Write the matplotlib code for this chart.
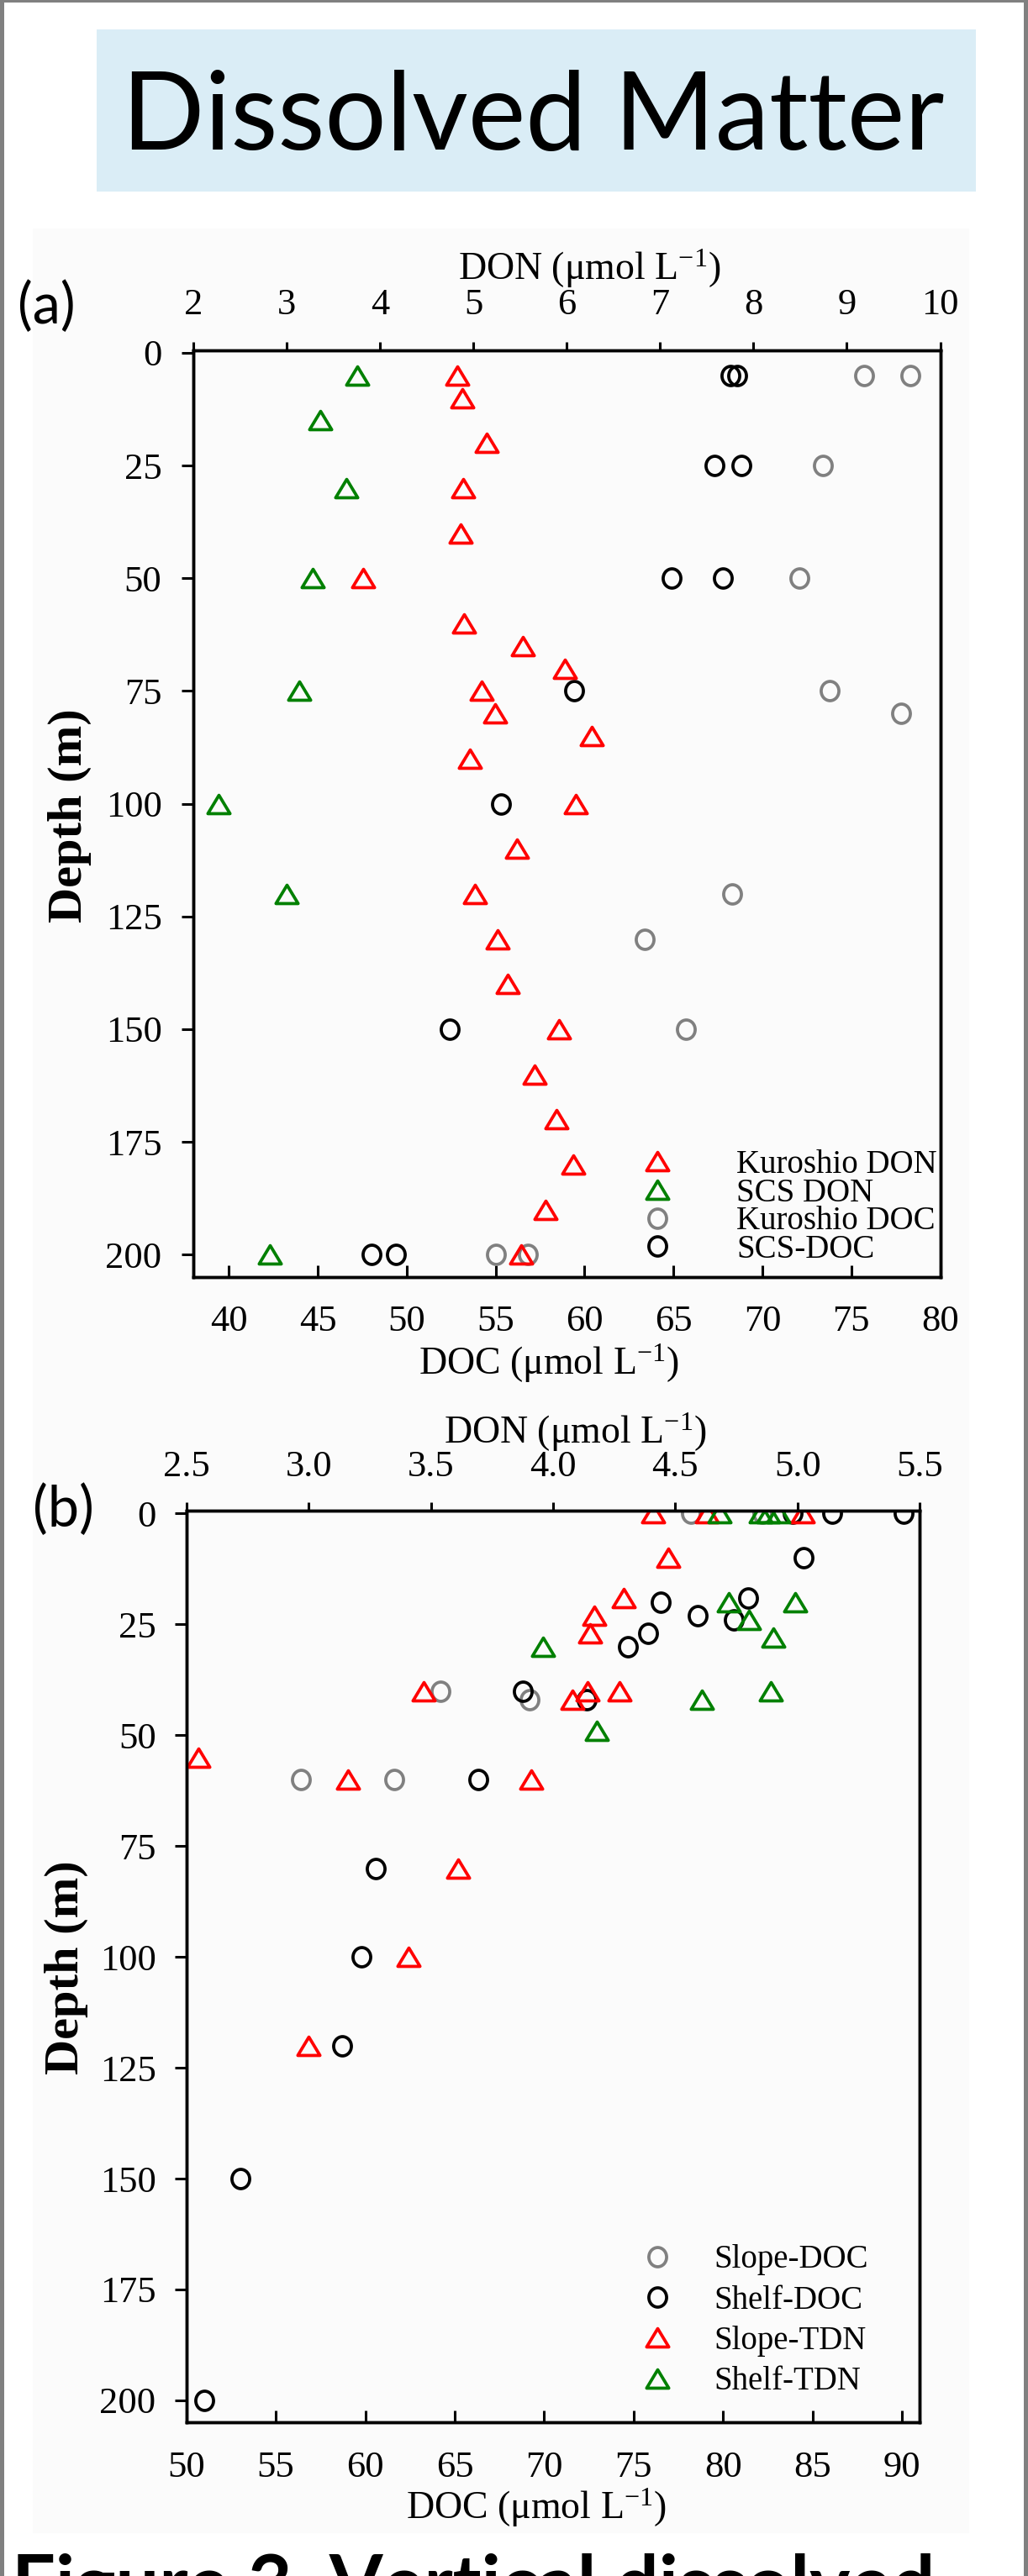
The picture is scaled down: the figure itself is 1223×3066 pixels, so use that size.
import matplotlib
matplotlib.use('Agg')
import matplotlib.pyplot as plt
from matplotlib.patches import Rectangle
from matplotlib.path import Path
import numpy as np

plt.rcParams['font.family'] = ['Liberation Serif', 'DejaVu Serif']
plt.rcParams['mathtext.fontset'] = 'custom'
plt.rcParams['mathtext.rm'] = 'Liberation Serif'
plt.rcParams['mathtext.default'] = 'regular'

# ---------- panel (a): Kuroshio vs SCS ----------
kuro_don_depth = [5, 10, 20, 30, 40, 50, 60, 65, 70, 75, 80, 85, 90, 100, 110,
                  120, 130, 140, 150, 160, 170, 180, 190, 200]
kuro_don = [4.83, 4.88, 5.14, 4.89, 4.86, 3.82, 4.90, 5.53, 5.98, 5.09, 5.23, 6.27,
            4.96, 6.10, 5.47, 5.02, 5.26, 5.37, 5.92, 5.66, 5.89, 6.07, 5.77, 5.51]
scs_don_depth = [5, 15, 30, 50, 75, 100, 120, 200]
scs_don = [3.76, 3.36, 3.64, 3.28, 3.13, 2.27, 3.00, 2.82]
kuro_doc_depth = [5, 5, 25, 50, 75, 80, 120, 130, 150, 200, 200]
kuro_doc = [75.7, 78.3, 73.4, 72.1, 73.8, 77.8, 68.3, 63.4, 65.7, 55.0, 56.8]
scs_doc_depth = [5, 5, 25, 25, 50, 50, 75, 100, 150, 200, 200]
scs_doc = [68.2, 68.6, 67.3, 68.8, 64.9, 67.8, 59.4, 55.3, 52.4, 48.0, 49.4]
labels_a = ['Kuroshio DON', 'SCS DON', 'Kuroshio DOC', 'SCS-DOC']

# ---------- panel (b): slope vs shelf ----------
slope_doc_depth = [0, 0, 40, 42, 60, 60]
slope_doc = [78.2, 82.2, 64.2, 69.2, 56.4, 61.6]
shelf_doc_depth = [0, 0, 0, 10, 20, 19, 23, 24, 27, 30, 40, 42, 60, 80, 100, 120, 150, 200]
shelf_doc = [83.9, 86.1, 90.1, 84.5, 76.5, 81.4, 78.6, 80.6, 75.8, 74.7, 68.8, 72.4,
             66.3, 60.6, 59.8, 58.7, 53.0, 51.0]
slope_tdn_depth = [0, 0, 0, 10, 19, 23, 27, 40, 42, 40, 40, 55, 60, 60, 80, 100, 120]
slope_tdn = [4.41, 4.63, 5.02, 4.47, 4.29, 4.17, 4.15, 3.47, 4.08, 4.14, 4.27, 2.55,
             3.16, 3.91, 3.61, 3.41, 3.00]
shelf_tdn_depth = [0, 0, 0, 0, 20, 20, 24, 28, 30, 42, 40, 49]
shelf_tdn = [4.68, 4.85, 4.88, 4.92, 4.72, 4.99, 4.80, 4.90, 3.96, 4.61, 4.89, 4.18]
labels_b = ['Slope-DOC', 'Shelf-DOC', 'Slope-TDN', 'Shelf-TDN']

depth_ticks = list(range(0, 201, 25))

RED, GREEN, GRAY, BLACK = '#ff0000', '#008000', '#808080', '#000000'

# marker shapes: a slightly flat triangle and a slightly tall ring
tri = Path([(0, 0.83), (-1, -0.83), (1, -0.83), (0, 0.83)],
           [Path.MOVETO, Path.LINETO, Path.LINETO, Path.CLOSEPOLY])
uc = Path.unit_circle()
ring = Path(uc.vertices * np.array([0.92, 1.0]), uc.codes)
tri_kw = dict(marker=tri, linestyle='none', markersize=19, markeredgewidth=2.7,
              markerfacecolor='none')
ring_kw = dict(marker=ring, linestyle='none', markersize=16.5, markeredgewidth=2.7,
               markerfacecolor='none')

W, H = 1223, 3066
fig = plt.figure(figsize=(W / 100, H / 100), dpi=100)
fig.patch.set_facecolor('white')


def frect(x0, y0, x1, y1, color, z=-10):
    fig.patches.append(Rectangle((x0 / W, 1 - y1 / H), (x1 - x0) / W, (y1 - y0) / H,
                                 transform=fig.transFigure, facecolor=color,
                                 edgecolor='none', zorder=z))


# faint panel backgrounds and page border
frect(39, 272, 1153, 1662, '#fbfbfb')
frect(39, 1662, 1153, 3015, '#fbfbfb')
frect(0, 0, 5, H, '#808080', 5)
frect(1218, 0, W, H, '#808080', 5)
frect(0, 0, W, 2.5, '#808080', 5)

# title box
frect(115, 35, 1161, 228, '#daedf6')
title = fig.text(634 / W, 1 - 178 / H, 'Dissolved Matter', family='Lato',
                 fontsize=90, ha='center', va='baseline')


def setup(ax, ax2, doc_lim, doc_ticks, don_lim, don_ticks, don_fmt, pads):
    for a in (ax, ax2):
        for s in a.spines.values():
            s.set_linewidth(2.5)
    ax.set_facecolor('none')
    ax.set_ylim(205, -0.6)
    ax.set_yticks(depth_ticks)
    ax.set_xlim(*doc_lim)
    ax.set_xticks(doc_ticks)
    ax2.set_xlim(*don_lim)
    ax2.set_xticks(don_ticks)
    ax2.set_xticklabels([don_fmt % v for v in don_ticks])
    ax.tick_params(axis='x', direction='in', length=10, width=2.2, pad=pads[0],
                   labelsize=32, top=False)
    ax.tick_params(axis='y', direction='out', length=10, width=2.2, pad=pads[1],
                   labelsize=32, right=False)
    ax2.tick_params(axis='x', direction='out', length=7, width=2.2, pad=pads[2],
                    labelsize=32)
    ax.set_ylabel('Depth (m)', fontsize=42, fontweight='bold')
    ax.set_xlabel('DOC (μmol L$^{-1}$)', fontsize=33)
    ax2.set_xlabel('DON (μmol L$^{-1}$)', fontsize=33)


# ---------- panel (a) ----------
axa = fig.add_axes([230 / W, 1 - 1520 / H, 888.5 / W, 1103.3 / H])
axa2 = axa.twiny()
setup(axa, axa2, (38, 80), range(40, 81, 5), (2, 10), range(2, 11), '%d', (24, 17, 17))
h_kdoc, = axa.plot(kuro_doc, kuro_doc_depth, color=GRAY, **ring_kw)
h_sdoc, = axa.plot(scs_doc, scs_doc_depth, color=BLACK, **ring_kw)
h_kdon, = axa2.plot(kuro_don, kuro_don_depth, color=RED, **tri_kw)
h_sdon, = axa2.plot(scs_don, scs_don_depth, color=GREEN, **tri_kw)
axa2.set_ylim(205, -0.6)
axa.yaxis.set_label_coords(-0.136, 0.4976)
axa.xaxis.set_label_coords(0.476, -0.0707)
axa2.xaxis.set_label_coords(0.530, 1.0759)
axa2.legend([h_kdon, h_sdon, h_kdoc, h_sdoc], labels_a, loc='upper left',
            bbox_to_anchor=(0.5993, 0.1378), frameon=False, fontsize=28,
            handlelength=1.0, handletextpad=1.92, labelspacing=-0.085,
            borderpad=0, borderaxespad=0)

# ---------- panel (b) ----------
axb = fig.add_axes([221.7 / W, 1 - 2883.3 / H, 872.6 / W, 1085 / H])
axb2 = axb.twiny()
setup(axb, axb2, (50, 91), range(50, 91, 5), (2.5, 5.5),
      [2.5, 3.0, 3.5, 4.0, 4.5, 5.0, 5.5], '%.1f', (24, 16, 16))
h_pdoc, = axb.plot(slope_doc, slope_doc_depth, color=GRAY, **ring_kw)
h_fdoc, = axb.plot(shelf_doc, shelf_doc_depth, color=BLACK, **ring_kw)
h_ptdn, = axb2.plot(slope_tdn, slope_tdn_depth, color=RED, **tri_kw)
h_ftdn, = axb2.plot(shelf_tdn, shelf_tdn_depth, color=GREEN, **tri_kw)
axb2.set_ylim(205, -0.6)
axb.yaxis.set_label_coords(-0.1337, 0.4989)
axb.xaxis.set_label_coords(0.477, -0.0707)
axb2.xaxis.set_label_coords(0.530, 1.074)
axb2.legend([h_pdoc, h_fdoc, h_ptdn, h_ftdn], labels_b, loc='upper left',
            bbox_to_anchor=(0.6195, 0.1954), frameon=False, fontsize=28,
            handlelength=1.0, handletextpad=1.24, labelspacing=0.29,
            borderpad=0, borderaxespad=0)

# panel tags and the caption that the page crop cuts through
fig.text(55 / W, 1 - 366 / H, '(a)', family='Lato', fontsize=48, ha='center', va='center')
fig.text(75 / W, 1 - 1798 / H, '(b)', family='Lato', fontsize=48, ha='center', va='center')
fig.text(14 / W, 1 - 3106 / H, 'Figure 3. Vertical dissolved',
         family='Lato', fontweight='bold', fontsize=66, ha='left', va='baseline')

# fit title width to the box text
fig.canvas.draw()
w = title.get_window_extent().width
title.set_fontsize(90 * 979 / w)

fig.savefig('out.png', dpi=100)
